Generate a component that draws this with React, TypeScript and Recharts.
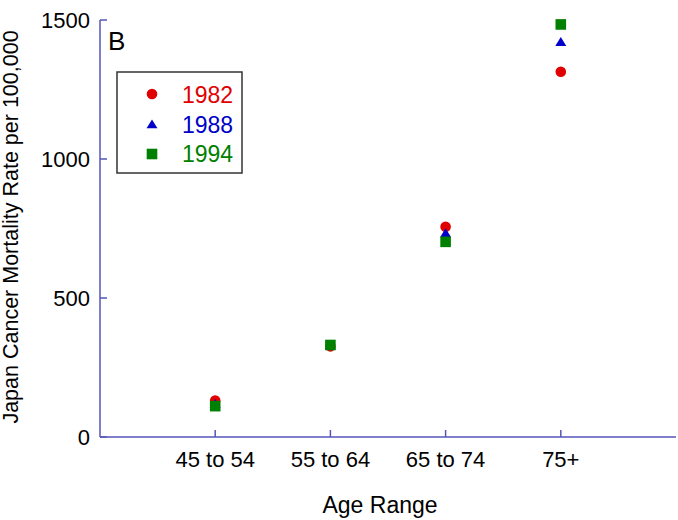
import { ScatterChart, Scatter, XAxis, YAxis, Label } from 'recharts'

const ageRanges = ['45 to 54', '55 to 64', '65 to 74', '75+']
const years = ['1982', '1988', '1994']
const rate1982 = [131, 326, 756, 1314]
const rate1988 = [120, 330, 734, 1422]
const rate1994 = [111, 331, 702, 1484]
const yTicks = [0, 500, 1000, 1500]

const colors = ['#e00000', '#0000c8', '#008000']
const shapes = ['circle', 'triangle', 'square']
const seriesValues = [rate1982, rate1988, rate1994]

const FONT = '"Liberation Sans", Arial, sans-serif'
const AXIS = '#5656b8'

const Marker = ({ cx, cy, kind, color }: any) => {
  if (kind === 'circle') return <circle cx={cx} cy={cy} r={5.3} fill={color} />
  if (kind === 'triangle')
    return <polygon points={`${cx - 5.5},${cy + 4.3} ${cx + 5.5},${cy + 4.3} ${cx},${cy - 4.6}`} fill={color} />
  return <rect x={cx - 5.3} y={cy - 5.3} width={10.6} height={10.6} fill={color} />
}

const App = () => {
  const series = years.map((year, s) => ({
    name: year,
    color: colors[s],
    kind: shapes[s],
    data: ageRanges.map((_, i) => ({ x: i + 1, y: seriesValues[s][i] })),
  }))

  return (
    <div style={{ position: 'absolute', left: 0, top: 0, width: 678, height: 520, fontFamily: FONT }}>
      <ScatterChart width={678} height={520} margin={{ top: 20, right: 2, bottom: 0, left: 0 }}>
        <XAxis
          type="number"
          dataKey="x"
          domain={[0, 5]}
          ticks={[1, 2, 3, 4]}
          tickFormatter={(v) => ageRanges[v - 1]}
          height={83}
          stroke={AXIS}
          strokeWidth={1.5}
          tickSize={-7}
          tickMargin={21}
          tick={{ fill: '#000', fontSize: 22, fontFamily: FONT }}
        >
          <Label
            content={() => (
              <text x={380} y={513} textAnchor="middle" fontSize={23} fontFamily={FONT} fill="#000">
                Age Range
              </text>
            )}
          />
        </XAxis>
        <XAxis
          xAxisId="top"
          orientation="top"
          type="number"
          dataKey="x"
          domain={[0, 5]}
          ticks={[1, 2, 3, 4]}
          height={0}
          stroke={AXIS}
          strokeWidth={1.5}
          tickSize={-7}
          tick={false}
        />
        <YAxis
          type="number"
          dataKey="y"
          domain={[0, 1500]}
          ticks={yTicks}
          width={100}
          stroke={AXIS}
          strokeWidth={1.5}
          tickSize={-7}
          tickMargin={17}
          tick={{ fill: '#000', fontSize: 22, fontFamily: FONT }}
        >
          <Label
            content={() => (
              <text
                x={18}
                y={227}
                transform="rotate(-90 18 227)"
                textAnchor="middle"
                fontSize={21.5}
                fontFamily={FONT}
                fill="#000"
              >
                Japan Cancer Mortality Rate per 100,000
              </text>
            )}
          />
        </YAxis>
        <YAxis
          yAxisId="right"
          orientation="right"
          type="number"
          dataKey="y"
          domain={[0, 1500]}
          ticks={yTicks}
          width={0}
          stroke={AXIS}
          strokeWidth={1.5}
          tickSize={-7}
          tick={false}
        />
        {series.map((s) => (
          <Scatter
            key={s.name}
            name={s.name}
            data={s.data}
            fill={s.color}
            isAnimationActive={false}
            shape={(p: any) => <Marker cx={p.cx} cy={p.cy} kind={s.kind} color={s.color} />}
          />
        ))}
      </ScatterChart>

      {/* panel letter and legend box */}
      <svg width={678} height={520} style={{ position: 'absolute', left: 0, top: 0, pointerEvents: 'none' }}>
        <text x={108} y={50} fontSize={26} fontFamily={FONT} fill="#000">
          B
        </text>
        <rect x={117} y={72} width={125} height={101} fill="none" stroke="#333" strokeWidth={1.5} />
        {series.map((s, i) => (
          <g key={s.name}>
            <Marker cx={152} cy={94 + i * 30} kind={s.kind} color={s.color} />
            <text x={182} y={103 + i * 29.5} fontSize={23} fontFamily={FONT} fill={s.color}>
              {s.name}
            </text>
          </g>
        ))}
      </svg>
    </div>
  )
}

export default App
